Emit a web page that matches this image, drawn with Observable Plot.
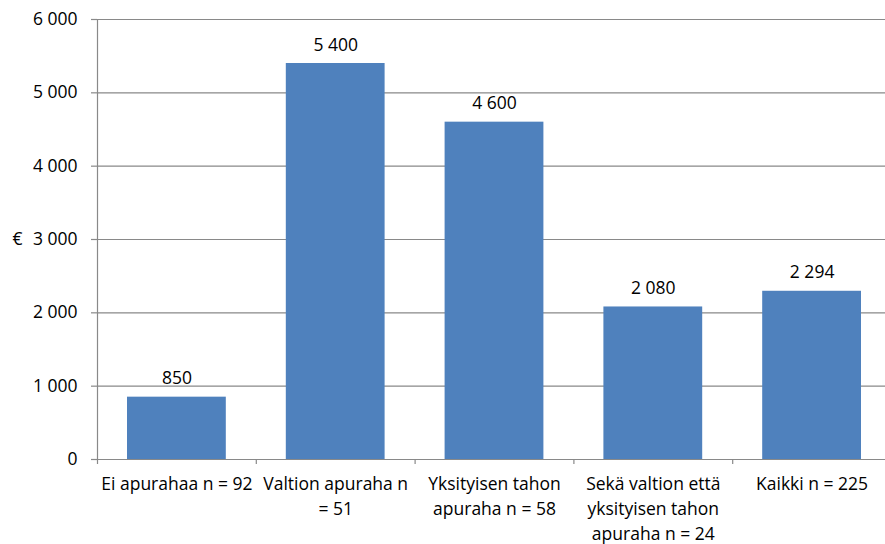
<!DOCTYPE html>
<html>
<head>
<meta charset="utf-8">
<script src="https://cdn.jsdelivr.net/npm/d3@7"></script>
<script src="https://cdn.jsdelivr.net/npm/@observablehq/plot@0.6"></script>
<style>
  html, body { margin: 0; padding: 0; background: #fff; overflow: hidden; }
  #chart svg { overflow: visible; }
</style>
</head>
<body>
<div id="chart"></div>
<script>
const categories = [
  "Ei apurahaa n = 92",
  "Valtion apuraha n\n= 51",
  "Yksityisen tahon\napuraha n = 58",
  "Sekä valtion että\nyksityisen tahon\napuraha n = 24",
  "Kaikki n = 225"
];
const values = [850, 5400, 4600, 2080, 2294];
const yTicks = [0, 1000, 2000, 3000, 4000, 5000, 6000];

const data = categories.map((c, i) => ({i, label: c, value: values[i]}));
const fmt = v => d3.format(",")(v).replace(/,/g, " ");
const grid = "#898989";
const fs = 17.5;

const chart = Plot.plot({
  width: 885,
  height: 544,
  marginTop: 19,
  marginBottom: 85,
  marginLeft: 97,
  marginRight: 0,
  style: {fontFamily: "'Open Sans', sans-serif", fontSize: fs + "px", color: "#000", background: "#fff", overflow: "visible"},
  x: {type: "linear", domain: [0, 5], range: [97, 891]},
  y: {domain: [0, 6000], range: [459, 19]},
  marks: [
    Plot.gridY(yTicks, {stroke: grid, strokeOpacity: 1, strokeWidth: 1.2}),
    Plot.rectY(data, {x1: "i", x2: d => d.i + 1, y: "value", fill: "#4F81BD", insetLeft: 30, insetRight: 30}),
    Plot.ruleY([0], {stroke: grid, strokeWidth: 1.2}),
    Plot.ruleX([0], {stroke: grid, strokeWidth: 1.2, y1: 0, y2: 6000}),
    Plot.axisY(yTicks, {tickSize: 6, tickPadding: 14, stroke: grid, strokeWidth: 1.2, tickFormat: fmt, fill: "#000", fontSize: fs, label: null}),
    Plot.axisX([0, 1, 2, 3, 4, 5], {tickSize: 5, stroke: grid, strokeWidth: 1.2, tickFormat: () => "", label: null}),
    Plot.axisX(data.map(d => d.i + 0.5), {tickSize: 0, tickPadding: 13, tickFormat: (v, k) => categories[k], fill: "#000", fontSize: fs, lineHeight: 1.42, label: null}),
    Plot.text(data, {x: d => d.i + 0.5, y: "value", text: d => fmt(d.value), lineAnchor: "bottom", dy: -13, fill: "#000", fontSize: fs}),
    Plot.text(["€"], {x: 0, y: 3000, dx: -80, text: d => d, fill: "#000", fontSize: fs})
  ]
});
document.getElementById("chart").appendChild(chart);
</script>
</body>
</html>
